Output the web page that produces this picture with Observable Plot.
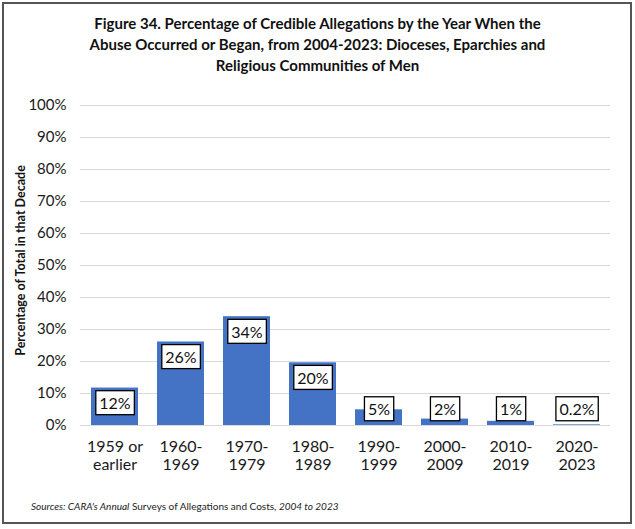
<!DOCTYPE html>
<html>
<head>
<meta charset="utf-8">
<script src="https://cdn.jsdelivr.net/npm/d3@7"></script>
<script src="https://cdn.jsdelivr.net/npm/@observablehq/plot@0.6"></script>
<style>
  html, body { margin: 0; padding: 0; background: #fff; }
  body { width: 635px; height: 529px; position: relative; overflow: hidden; font-family: Lato, "Open Sans", sans-serif; color: #1a1a1a; }
  #frame { position: absolute; left: 2px; top: 2px; width: 630px; height: 522px; box-sizing: border-box; border: 2px solid #555; }
  #title { position: absolute; left: 0; top: 13px; width: 635px; text-align: center; font-weight: bold; font-size: 15px; line-height: 21px; color: #111; }
  #chart { position: absolute; left: 0; top: 90px; }
  #caption { position: absolute; left: 31px; top: 500px; font-size: 10px; color: #222; }
</style>
</head>
<body>
<div id="frame"></div>
<div id="title">Figure 34. Percentage of Credible Allegations by the Year When the<br>Abuse Occurred or Began, from 2004-2023: Dioceses, Eparchies and<br>Religious Communities of Men</div>
<div id="chart"></div>
<div id="caption"><i>Sources: CARA's Annual</i> Surveys of Allegations and Costs, <i>2004 to 2023</i></div>
<script>
const categories = ["1959 or\nearlier", "1960-\n1969", "1970-\n1979", "1980-\n1989", "1990-\n1999", "2000-\n2009", "2010-\n2019", "2020-\n2023"];
const values = [11.7, 26.1, 34.0, 19.6, 4.9, 2.0, 1.3, 0.2];
const valueLabels = ["12%", "26%", "34%", "20%", "5%", "2%", "1%", "0.2%"];
const yTicks = [0, 10, 20, 30, 40, 50, 60, 70, 80, 90, 100];
const yLabel = "Percentage of Total in that Decade";

const data = categories.map((c, i) => ({category: c, value: values[i], label: valueLabels[i]}));

const chart = Plot.plot({
  width: 635,
  height: 400,
  marginTop: 15,
  marginBottom: 65,
  marginLeft: 80,
  marginRight: 25,
  style: {fontFamily: "Lato, 'Open Sans', sans-serif", color: "#1a1a1a", background: "transparent"},
  x: {domain: categories, paddingInner: 0.29, paddingOuter: 0.145, label: null},
  y: {domain: [0, 100], label: null},
  marks: [
    Plot.gridY(yTicks, {stroke: "#d9d9d9", strokeOpacity: 1, strokeWidth: 1}),
    Plot.axisY(yTicks, {tickSize: 0, tickPadding: 14, fontSize: 15, tickFormat: d => d + "%", label: null, fill: "#1a1a1a"}),
    Plot.axisX({tickSize: 0, tickPadding: 13, fontSize: 16, lineHeight: 1.15, label: null, fill: "#1a1a1a"}),
    Plot.barY(data, {x: "category", y: "value", fill: "#4472C4"}),
    Plot.text([yLabel], {frameAnchor: "left", textAnchor: "middle", rotate: -90, dx: -60, dy: -5, fontWeight: "bold", fontSize: 12.5, fill: "#111"}),
    Plot.text(data, {x: "category", y: d => Math.max(d.value, 9.8), dy: 16, text: "label", fontSize: 16, fill: "#111", className: "vlabel"})
  ]
});
document.getElementById("chart").appendChild(chart);

// white boxes with black border behind value labels
const labelTexts = chart.querySelectorAll("g.vlabel text, .vlabel text");
labelTexts.forEach(t => {
  const b = t.getBBox();
  const padX = 3.5, padY = 2.5;
  const r = document.createElementNS("http://www.w3.org/2000/svg", "rect");
  r.setAttribute("x", b.x - padX);
  r.setAttribute("y", b.y - padY);
  r.setAttribute("width", b.width + 2 * padX);
  r.setAttribute("height", b.height + 2 * padY);
  r.setAttribute("fill", "#fff");
  r.setAttribute("stroke", "#000");
  r.setAttribute("stroke-width", 1.3);
  const tr = t.getAttribute("transform");
  if (tr) r.setAttribute("transform", tr);
  t.parentNode.insertBefore(r, t);
});
</script>
</body>
</html>
